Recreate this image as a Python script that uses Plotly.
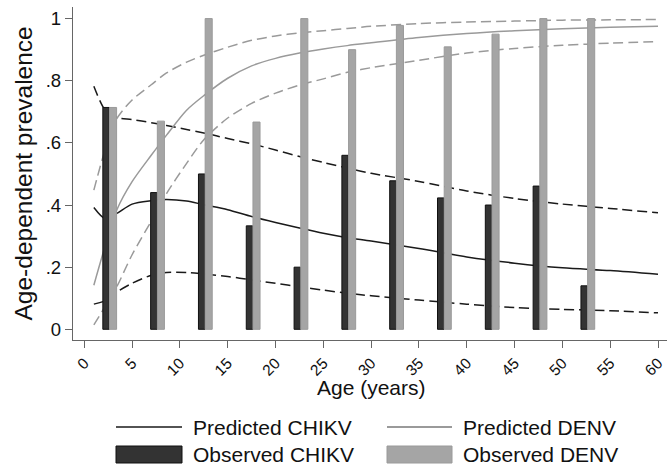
import plotly.graph_objects as go

# ---------------- data ----------------
age_mid = [2.5, 7.5, 12.5, 17.5, 22.5, 27.5, 32.5, 37.5, 42.5, 47.5, 52.5]
obs_chikv = [0.714, 0.44, 0.50, 0.333, 0.20, 0.56, 0.478, 0.423, 0.40, 0.461, 0.14]
obs_denv = [0.714, 0.67, 1.00, 0.667, 1.00, 0.90, 0.978, 0.909, 0.95, 1.00, 1.00]

curve_age = [1, 2.2, 3.4, 5, 7, 8.6, 10.7, 12.5, 15, 17.5, 20, 22.5, 25, 27.5,
             30, 35, 40, 45, 50, 55, 60]
pred_chikv = [0.392, 0.356, 0.373, 0.403, 0.414, 0.418, 0.413, 0.401, 0.385, 0.363,
              0.344, 0.326, 0.309, 0.295, 0.284, 0.260, 0.233, 0.213, 0.198, 0.189, 0.177]
chikv_hi = [0.782, 0.705, 0.682, 0.675, 0.665, 0.656, 0.643, 0.632, 0.614, 0.597,
            0.577, 0.556, 0.537, 0.519, 0.502, 0.476, 0.445, 0.421, 0.403, 0.389, 0.375]
chikv_lo = [0.081, 0.092, 0.120, 0.148, 0.174, 0.183, 0.183, 0.178, 0.170, 0.159,
            0.148, 0.137, 0.126, 0.116, 0.108, 0.094, 0.081, 0.070, 0.064, 0.060, 0.053]
pred_denv = [0.142, 0.270, 0.384, 0.475, 0.560, 0.625, 0.705, 0.752, 0.808, 0.848,
             0.872, 0.889, 0.902, 0.913, 0.922, 0.939, 0.952, 0.961, 0.967, 0.972, 0.975]
denv_hi = [0.448, 0.580, 0.678, 0.738, 0.787, 0.825, 0.860, 0.882, 0.908, 0.930,
           0.944, 0.954, 0.961, 0.968, 0.975, 0.984, 0.989, 0.992, 0.995, 0.996, 0.997]
denv_lo = [0.014, 0.075, 0.137, 0.240, 0.348, 0.437, 0.534, 0.610, 0.680, 0.727,
           0.760, 0.786, 0.806, 0.827, 0.842, 0.866, 0.889, 0.904, 0.914, 0.921, 0.926]

x_ticks = list(range(0, 61, 5))
y_ticks = [0, 0.2, 0.4, 0.6, 0.8, 1]
y_ticktext = ["0", ".2", ".4", ".6", ".8", "1"]

# ---------------- style ----------------
W, H = 667, 466
L, R, T, B = 73, 0, 7, 126
PW, PH = W - L - R, H - T - B
XR = [-1.18, 60.94]
YR = [-0.0344, 1.0373]
FONT = "Liberation Sans, Arial, sans-serif"
DARK = "#333333"
LIGHT = "#a5a5a5"
BLACK_LINE = "#1a1a1a"
GRAY_LINE = "#9a9a9a"
AXIS = "#666666"
DASH = "10px,5px"

fig = go.Figure()

def curve(y, color, dash, name):
    fig.add_trace(go.Scatter(x=curve_age, y=y, mode="lines", name=name,
                             line=dict(color=color, width=1.5, dash=dash, shape="spline",
                                       smoothing=0.8),
                             showlegend=False, hoverinfo="skip"))

curve(chikv_hi, BLACK_LINE, DASH, "CHIKV upper")
curve(chikv_lo, BLACK_LINE, DASH, "CHIKV lower")
curve(denv_hi, GRAY_LINE, DASH, "DENV upper")
curve(denv_lo, GRAY_LINE, DASH, "DENV lower")
curve(pred_denv, GRAY_LINE, "solid", "Predicted DENV")
curve(pred_chikv, BLACK_LINE, "solid", "Predicted CHIKV")

fig.add_trace(go.Bar(x=age_mid, y=obs_chikv, name="Observed CHIKV", width=0.68,
                     offset=-0.56, marker=dict(color=DARK, line=dict(color="#111111", width=1)),
                     xaxis="x2", yaxis="y2", showlegend=False))
fig.add_trace(go.Bar(x=age_mid, y=obs_denv, name="Observed DENV", width=0.74,
                     offset=0.14, marker=dict(color=LIGHT, line=dict(color="#9a9a9a", width=1)),
                     xaxis="x2", yaxis="y2", showlegend=False))

def px(xp):
    return (xp - L) / PW

def py(yp):
    return (H - B - yp) / PH

shapes = [
    dict(type="line", xref="paper", yref="paper", x0=px(116), x1=px(182), y0=py(427), y1=py(427),
         line=dict(color=BLACK_LINE, width=1.5)),
    dict(type="line", xref="paper", yref="paper", x0=px(387), x1=px(452), y0=py(427), y1=py(427),
         line=dict(color=GRAY_LINE, width=1.8)),
    dict(type="rect", xref="paper", yref="paper", x0=px(116), x1=px(182), y0=py(446), y1=py(463),
         fillcolor=DARK, line=dict(color="#111111", width=1)),
    dict(type="rect", xref="paper", yref="paper", x0=px(387), x1=px(452), y0=py(446), y1=py(463),
         fillcolor=LIGHT, line=dict(color="#9a9a9a", width=1)),
]

def label(text, xp, yp, size, anchor="left", angle=0):
    return dict(text=text, xref="paper", yref="paper", x=px(xp), y=py(yp), showarrow=False,
                xanchor=anchor, yanchor="middle", textangle=angle,
                font=dict(family=FONT, size=size, color="#111111"))

annotations = [
    label("Predicted CHIKV", 191, 427, 21),
    label("Predicted DENV", 461, 427, 21),
    label("Observed CHIKV", 191, 455, 21),
    label("Observed DENV", 461, 455, 21),
    label("Age (years)", 371, 387, 21, anchor="center"),
    label("Age-dependent prevalence", 23, 173.5, 24.5, anchor="center", angle=-90),
]

axis_common = dict(showgrid=False, zeroline=False, showline=True, linecolor=AXIS, linewidth=1.3,
                   ticks="outside", tickcolor=AXIS, tickwidth=1.2, ticklen=7, automargin=False)

fig.update_layout(
    width=W, height=H,
    margin=dict(l=L, r=R, t=T, b=B, autoexpand=False),
    paper_bgcolor="white", plot_bgcolor="white",
    font=dict(family=FONT, color="#111111"),
    barmode="overlay",
    showlegend=False,
    xaxis=dict(range=XR, tickvals=x_ticks, tickangle=-45,
               tickfont=dict(size=15.5, family=FONT, color="#111111"), **axis_common),
    yaxis=dict(range=YR, tickvals=y_ticks, ticktext=y_ticktext,
               tickfont=dict(size=18.5, family=FONT, color="#111111"), **axis_common),
    xaxis2=dict(range=XR, overlaying="x", visible=False, showgrid=False, zeroline=False),
    yaxis2=dict(range=YR, overlaying="y", visible=False, showgrid=False, zeroline=False),
    shapes=shapes,
    annotations=annotations,
)

fig.write_html("out.html", config={"displayModeBar": False},
               post_script="document.body.style.margin='0';document.body.style.overflow='hidden';")
